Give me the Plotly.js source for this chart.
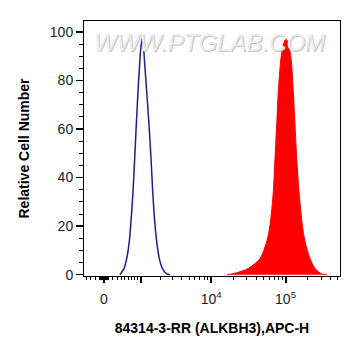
<!DOCTYPE html>
<html>
<head>
<meta charset="utf-8">
<script src="https://cdn.plot.ly/plotly-3.0.1.min.js"></script>
<style>html,body{margin:0;padding:0;background:#fff;}#chart{width:361px;height:356px;}</style>
</head>
<body>
<div id="chart"></div>
<script>
// Control (isotype) histogram: fluorescence values and relative counts
const controlX = [372, 476, 550, 624, 666, 738, 793, 847, 907, 981, 1019, 1070, 1119, 1152, 1256, 1363, 1461, 1549, 1675, 1773, 1933, 2134, 2462, 2737];
const controlY = [0, 2.6, 6.7, 13.6, 20.5, 34.2, 48, 61.7, 75.4, 89.2, 94, 97.4, 94, 89.2, 75.4, 61.7, 48, 34.2, 20.5, 13.6, 6.7, 2.6, 0.3, 0];

// ALKBH3 stained histogram
const sampleX = [16279, 20859, 31507, 45288, 55728, 61740, 68400, 72108, 75996, 79848, 86832, 93816, 101376, 109548, 118368, 127116, 133992, 141228, 151668, 167976, 182628, 213192, 248868, 306216, 357624];
const sampleY = [0, 0.6, 2.6, 6.7, 13.6, 20.5, 34.2, 48, 61.7, 75.4, 89.2, 95, 97.1, 95, 89.2, 75.4, 61.7, 48, 34.2, 20.5, 13.6, 6.7, 2.6, 0.3, 0];

// Axis ticks (fluorescence values)
const majorTickVals = [0, 1000, 10000, 100000];
const majorTickText = ['0', ' ', '10<sup>4</sup>', '10<sup>5</sup>'];
const minorTickVals = [-500, -400, -300, -200, -100, -90, -80, -70, -60, -50, -40, -30, -20, -10,
  10, 20, 30, 40, 50, 60, 70, 80, 90, 100, 200, 300, 400, 500, 600, 700, 800, 900,
  2000, 3000, 4000, 5000, 6000, 7000, 8000, 9000,
  20000, 30000, 40000, 50000, 60000, 70000, 80000, 90000,
  200000, 300000, 400000, 500000];
const xRangeDecades = [-0.2692, 3.1763];

// biexponential-like display transform (arcsinh), in decades
const C = 720;
function tr(v) { return Math.asinh(v / C) / Math.LN10; }

const font = "Liberation Sans, Arial, sans-serif";

const traces = [
  {
    x: sampleX.map(tr), y: sampleY, type: 'scatter', mode: 'lines',
    line: {color: '#ff0000', width: 1, shape: 'spline', smoothing: 0.8},
    fill: 'tozeroy', fillcolor: '#ff0000', hoverinfo: 'skip'
  },
  {
    x: controlX.map(tr), y: controlY, type: 'scatter', mode: 'lines',
    line: {color: '#1e1e8c', width: 1.5, shape: 'spline', smoothing: 0.8},
    hoverinfo: 'skip'
  }
];

const layout = {
  width: 361, height: 356,
  margin: {l: 84, r: 21, t: 21, b: 80},
  paper_bgcolor: '#ffffff', plot_bgcolor: '#ffffff',
  showlegend: false,
  font: {family: font, color: '#222', size: 14},
  xaxis: {
    range: xRangeDecades,
    showgrid: false, zeroline: false,
    showline: true, linecolor: '#000', linewidth: 1, mirror: true,
    tickmode: 'array', tickvals: majorTickVals.map(tr), ticktext: majorTickText,
    ticks: 'outside', ticklen: 6, tickwidth: 2, tickcolor: '#000',
    ticklabelstandoff: 4,
    tickfont: {family: font, size: 14, color: '#222'},
    minor: {tickmode: 'array', tickvals: minorTickVals.map(tr), ticks: 'outside', ticklen: 3, tickwidth: 1, tickcolor: '#000', showgrid: false},
    title: {text: '84314-3-RR (ALKBH3),APC-H', font: {family: font, size: 14, color: '#000', weight: 'bold'}, standoff: 17}
  },
  yaxis: {
    range: [-0.54, 104.5],
    showgrid: false, zeroline: false,
    showline: true, linecolor: '#000', linewidth: 1, mirror: true,
    tickmode: 'linear', tick0: 0, dtick: 20,
    ticks: 'outside', ticklen: 7, tickwidth: 1.5, tickcolor: '#000',
    tickfont: {family: font, size: 14, color: '#222'},
    minor: {tickmode: 'linear', dtick: 5, ticks: 'outside', ticklen: 4, tickwidth: 1, tickcolor: '#000', showgrid: false},
    title: {text: 'Relative Cell Number', font: {family: font, size: 14, color: '#000', weight: 'bold'}, standoff: 16}
  },
  annotations: [{
    text: 'WWW.PTGLAB.COM', xref: 'paper', yref: 'paper',
    x: 0.49, y: 0.915, xanchor: 'center', yanchor: 'middle', showarrow: false,
    font: {family: font, size: 24, color: '#ececec', style: 'italic', shadow: '1px 1px 0px #c4c4c4'}
  }]
};

Plotly.newPlot('chart', traces, layout, {staticPlot: true, displayModeBar: false});
</script>
</body>
</html>
